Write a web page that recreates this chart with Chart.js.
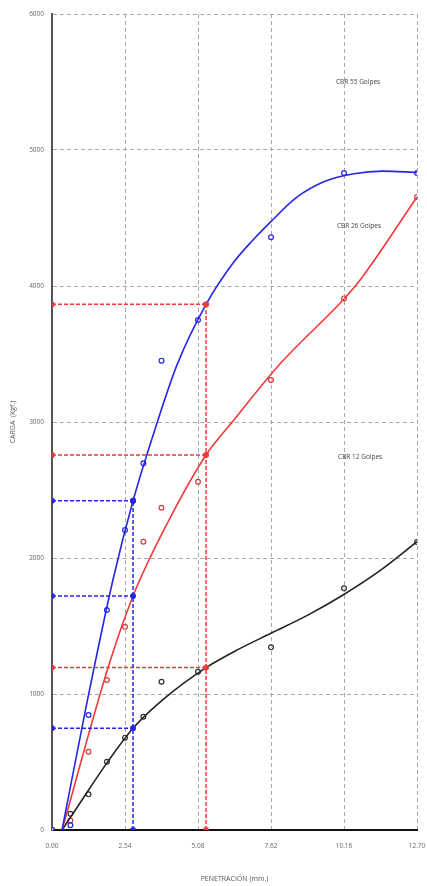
<!DOCTYPE html>
<html>
<head>
<meta charset="utf-8">
<script src="https://cdn.jsdelivr.net/npm/chart.js@4.4.1/dist/chart.umd.min.js"></script>
<style>
  html, body { margin: 0; padding: 0; background: #fff; }
  #cbrChart { display: block; }
</style>
</head>
<body>
<canvas id="cbrChart" width="427" height="886"></canvas>
<script>
// penetration readings (mm) and loads (kgf) for each compaction
const penetration = [0, 0.64, 1.27, 1.91, 2.54, 3.18, 3.81, 5.08, 7.62, 10.16, 12.70];
const load55 = [0, 35, 846, 1618, 2206, 2696, 3451, 3750, 4358, 4831, 4831];
const load26 = [0, 70, 575, 1103, 1495, 2120, 2370, 2561, 3309, 3909, 4654];
const load12 = [0, 120, 262, 502, 679, 833, 1090, 1164, 1343, 1777, 2118];

// fitted (corrected) curves
const fit55X = [0.35, 1.2, 2.12, 2.82, 3.65, 4.35, 5.36, 6.3, 7.0, 7.6, 8.5, 9.5, 10.5, 11.5, 12.7];
const fit55Y = [0, 920, 1838, 2421, 2990, 3420, 3865, 4169, 4340, 4470, 4650, 4770, 4825, 4845, 4835];
const fit26X = [0.35, 1.96, 2.82, 4.0, 5.36, 6.3, 7.93, 10.19, 10.72, 12.7];
const fit26Y = [0, 1200, 1721, 2250, 2757, 3007, 3426, 3912, 4044, 4654];
const fit12X = [0.35, 0.9, 1.9, 2.82, 3.87, 5.36, 6.5, 7.6, 8.9, 10.14, 11.4, 12.7];
const fit12Y = [0, 175, 490, 748, 960, 1194, 1330, 1445, 1580, 1730, 1905, 2120];

// corrected penetration for 0.1" and 0.2" and the loads read there
const refX1 = 2.82;
const refX2 = 5.36;
const refLoads1 = [748, 1721, 2421];
const refLoads2 = [1194, 2757, 3865];

const xTicks = [0, 2.54, 5.08, 7.62, 10.16, 12.70];
const curveLabels = ["CBR 55 Golpes", "CBR 26 Golpes", "CBR 12 Golpes"];
const labelX = [10.65, 10.68, 10.72];
const labelY = [5500, 4441, 2743];

const BLUE = "#2626e8";
const RED = "#f03a3a";
const BLACK = "#222222";

function pts(xs, ys) {
    return xs.map((x, i) => ({ x: x, y: ys[i] }));
}

function curve(xs, ys, color) {
    return {
        data: pts(xs, ys),
        showLine: true,
        borderColor: color,
        borderWidth: 1.6,
        pointRadius: 0,
        cubicInterpolationMode: "monotone",
        fill: false
    };
}

function marks(ys, color) {
    return {
        data: pts(penetration, ys),
        showLine: false,
        pointRadius: 2.4,
        pointBorderWidth: 1.2,
        pointBorderColor: color,
        pointBackgroundColor: "rgba(255,255,255,0.5)"
    };
}

function refLines(x, loads, color) {
    let sets = [];
    loads.forEach(v => {
        sets.push({
            data: [{ x: 0, y: v }, { x: x, y: v }],
            showLine: true,
            borderColor: color,
            borderWidth: 1.5,
            borderDash: [4, 2],
            pointRadius: 2.2,
            pointBackgroundColor: color,
            pointBorderColor: color
        });
    });
    sets.push({
        data: [{ x: x, y: 0 }, { x: x, y: Math.max(...loads) }],
        showLine: true,
        borderColor: color,
        borderWidth: 1.5,
        borderDash: [4, 2],
        pointRadius: 2.2,
        pointBackgroundColor: color,
        pointBorderColor: color
    });
    return sets;
}

// curve name labels inside the plot
const curveText = {
    id: "curveText",
    afterDatasetsDraw(chart) {
        const ctx = chart.ctx;
        const xs = chart.scales.x, ys = chart.scales.y;
        ctx.save();
        ctx.font = "6.5px 'Open Sans', sans-serif";
        ctx.fillStyle = "#444";
        ctx.textAlign = "center";
        ctx.textBaseline = "middle";
        curveLabels.forEach((t, i) => {
            ctx.fillText(t, xs.getPixelForValue(labelX[i]), ys.getPixelForValue(labelY[i]));
        });
        ctx.restore();
    }
};

const tickFont = { family: "'Open Sans', sans-serif", size: 6.5 };

new Chart(document.getElementById("cbrChart").getContext("2d"), {
    type: "scatter",
    data: {
        datasets: [
            ...refLines(refX1, refLoads1, BLUE),
            ...refLines(refX2, refLoads2, RED),
            curve(fit55X, fit55Y, BLUE),
            curve(fit26X, fit26Y, RED),
            curve(fit12X, fit12Y, BLACK),
            marks(load55, BLUE),
            marks(load26, "#d23c3c"),
            marks(load12, "#333"),
            {
                data: [{ x: 0, y: 0 }],
                pointRadius: 2.6,
                pointBackgroundColor: BLACK,
                pointBorderColor: BLACK
            }
        ]
    },
    options: {
        responsive: false,
        animation: false,
        layout: { padding: { top: 14, right: 10, left: 0, bottom: 0 } },
        plugins: {
            legend: { display: false },
            tooltip: { enabled: false }
        },
        scales: {
            x: {
                type: "linear",
                min: 0,
                max: 12.7,
                afterBuildTicks: axis => { axis.ticks = xTicks.map(v => ({ value: v })); },
                afterFit: scale => {
                    scale.height = 56;
                    scale.paddingLeft = 0;
                    scale.paddingRight = 0;
                },
                ticks: {
                    callback: v => v.toFixed(2),
                    font: tickFont,
                    color: "#666",
                    padding: 12,
                    maxRotation: 0
                },
                grid: { color: "#a8a8a8", lineWidth: 1, drawTicks: false },
                border: { color: "#111", width: 2, dash: [4, 3] },
                title: {
                    display: true,
                    text: "PENETRACIÓN (mm.)",
                    font: { family: "'Open Sans', sans-serif", size: 7 },
                    color: "#555",
                    padding: { top: 0, bottom: 3 }
                }
            },
            y: {
                min: 0,
                max: 6000,
                afterFit: scale => {
                    scale.width = 52;
                    scale.paddingTop = 0;
                    scale.paddingBottom = 0;
                },
                ticks: {
                    stepSize: 1000,
                    callback: v => String(v),
                    font: tickFont,
                    color: "#666",
                    padding: 8
                },
                grid: { color: "#a8a8a8", lineWidth: 1, drawTicks: false },
                border: { color: "#555", width: 2, dash: [4, 3] },
                title: {
                    display: true,
                    text: "CARGA  (Kgf.)",
                    font: { family: "'Open Sans', sans-serif", size: 7 },
                    color: "#555",
                    padding: { top: 9, bottom: 0 }
                }
            }
        }
    },
    plugins: [curveText]
});
</script>
</body>
</html>
